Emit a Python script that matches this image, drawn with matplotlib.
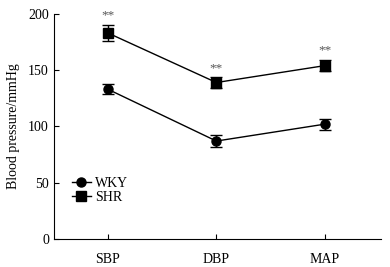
import matplotlib
matplotlib.use("Agg")
import matplotlib.pyplot as plt
from matplotlib.lines import Line2D
import numpy as np

plt.rcParams['font.family'] = ['Liberation Serif', 'DejaVu Serif']

# data
categories = ["SBP", "DBP", "MAP"]
wky_mean = [133, 87, 102]
wky_err = [4.5, 5, 5]
shr_mean = [183, 139, 154]
shr_err = [7, 4.5, 5]
sig = ["**", "**", "**"]

x = np.arange(len(categories))

fig = plt.figure(figsize=(3.9, 2.67), dpi=100)
ax = fig.add_axes([0.138, 0.105, 0.839, 0.843])

ax.errorbar(x, wky_mean, yerr=wky_err, color='black', marker='o', markersize=6.5,
            linewidth=1, elinewidth=1, capsize=4.5, capthick=1)
ax.errorbar(x, shr_mean, yerr=shr_err, color='black', marker='s', markersize=6.5,
            linewidth=1, elinewidth=1, capsize=4.5, capthick=1)

# significance marks above SHR
for xi, m, e, s in zip(x, shr_mean, shr_err, sig):
    ax.text(xi, m + e + 3, s, ha='center', va='bottom', fontsize=9.5, color='#555555')

ax.set_xlim(-0.5, 2.52)
ax.set_ylim(0, 200)
ax.set_yticks([0, 50, 100, 150, 200])
ax.set_xticks(x)
ax.set_xticklabels(categories)
ax.set_ylabel("Blood pressure/mmHg", fontsize=10, labelpad=6)
ax.tick_params(direction='in', labelsize=10, length=3.5, width=0.8)
ax.tick_params(axis='x', pad=10)
ax.spines['top'].set_visible(False)
ax.spines['right'].set_visible(False)

handles = [Line2D([], [], color='black', marker='o', markersize=6.5, linewidth=1),
           Line2D([], [], color='black', marker='s', markersize=6.5, linewidth=1)]
ax.legend(handles, ["WKY", "SHR"], loc='upper left', bbox_to_anchor=(0.04, 0.30),
          frameon=False, fontsize=10, handlelength=1.3, handletextpad=0.3,
          labelspacing=0.05, borderaxespad=0)

fig.savefig("out.png", dpi=100)
